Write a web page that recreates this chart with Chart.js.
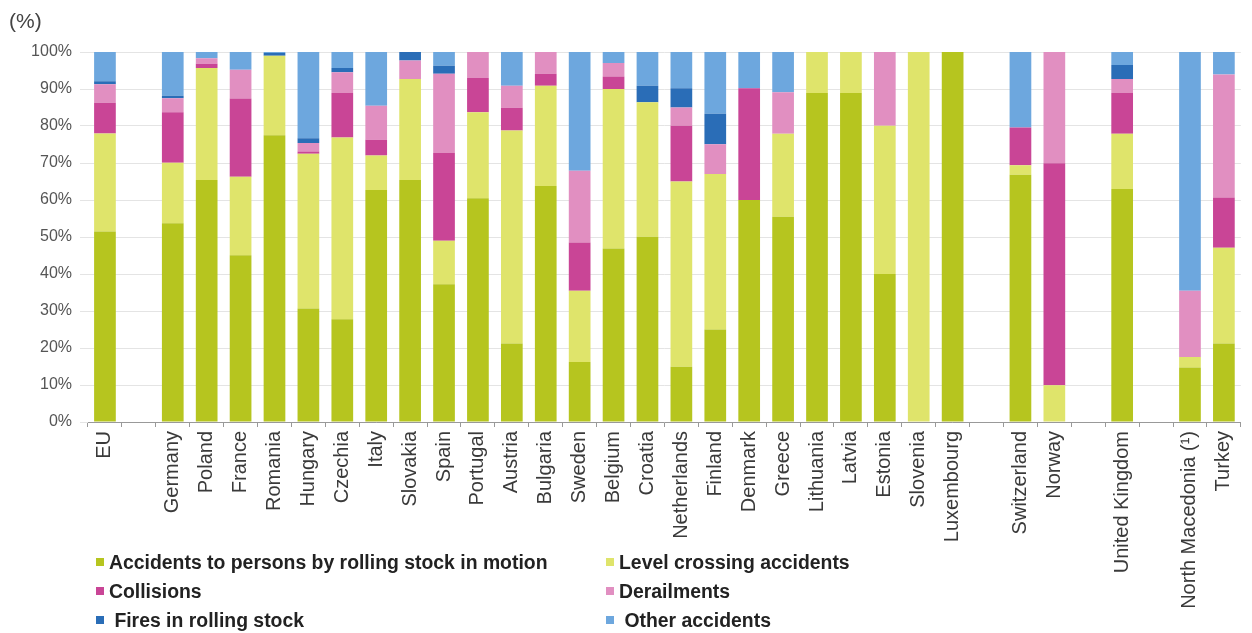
<!DOCTYPE html>
<html>
<head>
    <title>Railway accidents by type</title>
    <script src="https://cdn.jsdelivr.net/npm/chart.js"></script>
    <style>
        body { margin: 0; background: #fff; font-family: "Liberation Sans", Arial, sans-serif; }
        .wrap { position: relative; width: 1252px; height: 633px; }
        #unit { position: absolute; left: 9px; top: 9px; font-size: 21px; color: #444; }
        .leg { position: absolute; font-size: 19.4px; font-weight: bold; color: #222; white-space: nowrap; }
        .leg i { display: inline-block; width: 8px; height: 8px; margin-right: 5px; vertical-align: 3px; }
    </style>
</head>
<body>

<div class="wrap">
    <canvas id="grafico" width="1252" height="633"></canvas>
    <div id="unit">(%)</div>
    <div id="leyenda"></div>
</div>

<script>
    // '' entries are the empty gaps between country groups
    const countries = ['EU', '', 'Germany', 'Poland', 'France', 'Romania', 'Hungary', 'Czechia', 'Italy', 'Slovakia',
        'Spain', 'Portugal', 'Austria', 'Bulgaria', 'Sweden', 'Belgium', 'Croatia', 'Netherlands', 'Finland',
        'Denmark', 'Greece', 'Lithuania', 'Latvia', 'Estonia', 'Slovenia', 'Luxembourg', '', 'Switzerland',
        'Norway', '', 'United Kingdom', '', 'North Macedonia (¹)', 'Turkey'];

    const personsHit  = [51.5, null, 53.7, 65.4, 45.1, 77.5, 30.7, 27.8, 62.7, 65.4, 37.2, 60.5, 21.2, 63.8, 16.2, 46.9, 50.1, 14.9, 25.0, 60.0, 55.5, 88.9, 88.9, 40.0, 0, 100, null, 66.8, 0, null, 63.0, null, 14.7, 21.2];
    const levelCross  = [26.5, null, 16.4, 30.3, 21.2, 21.5, 41.8, 49.1, 9.3, 27.3, 11.8, 23.2, 57.6, 27.1, 19.3, 43.1, 36.3, 50.1, 42.0, 0, 22.4, 11.1, 11.1, 40.1, 100, 0, null, 2.6, 9.9, null, 14.9, null, 2.9, 25.9];
    const collisions  = [8.3, null, 13.6, 1.1, 21.1, 0, 0.6, 12.0, 4.3, 0, 23.7, 9.3, 6.1, 3.2, 13.0, 3.4, 0, 15.1, 0, 30.2, 0, 0, 0, 0, 0, 0, null, 10.2, 60.0, null, 11.0, null, 0, 13.6];
    const derailments = [5.0, null, 3.8, 1.5, 7.8, 0, 2.3, 5.6, 9.2, 5.0, 21.4, 7.0, 6.0, 5.9, 19.4, 3.6, 0, 4.9, 8.1, 0, 11.2, 0, 0, 19.9, 0, 0, null, 0, 30.1, null, 3.8, null, 17.9, 33.2];
    const fires       = [0.8, null, 0.7, 0, 0, 0.7, 1.3, 1.2, 0, 2.3, 2.2, 0, 0, 0, 0, 0, 4.5, 5.2, 8.2, 0, 0, 0, 0, 0, 0, 0, null, 0, 0, null, 3.8, null, 0, 0];
    const other       = [7.9, null, 11.8, 1.7, 4.8, 0.3, 23.3, 4.3, 14.5, 0, 3.7, 0, 9.1, 0, 32.1, 3.0, 9.1, 9.8, 16.7, 9.8, 10.9, 0, 0, 0, 0, 0, null, 20.4, 0, null, 3.5, null, 64.5, 6.1];

    const yTicks = [0, 10, 20, 30, 40, 50, 60, 70, 80, 90, 100];

    const series = [
        { label: 'Accidents to persons by rolling stock in motion', data: personsHit, color: '#b6c51f' },
        { label: 'Level crossing accidents', data: levelCross, color: '#dfe46b' },
        { label: 'Collisions', data: collisions, color: '#c94596' },
        { label: 'Derailments', data: derailments, color: '#e18fc1' },
        { label: ' Fires in rolling stock', data: fires, color: '#2a6db7' },
        { label: ' Other accidents', data: other, color: '#6da7de' }
    ];

    // legend in two columns, drawn as html
    const legPos = [[96, 551], [606, 551], [96, 580], [606, 580], [96, 609], [606, 609]];
    let legHTML = '';
    series.forEach((s, i) => {
        legHTML += `<div class="leg" style="left:${legPos[i][0]}px;top:${legPos[i][1]}px"><i style="background:${s.color}"></i>${s.label}</div>`;
    });
    document.getElementById('leyenda').innerHTML = legHTML;

    new Chart(document.getElementById('grafico').getContext('2d'), {
        type: 'bar',
        data: {
            labels: countries,
            datasets: series.map(s => ({
                label: s.label,
                data: s.data,
                backgroundColor: s.color,
                borderWidth: 0,
                barPercentage: 0.64,
                categoryPercentage: 1
            }))
        },
        options: {
            responsive: false,
            animation: false,
            layout: { padding: { top: 52, right: 8, left: 0, bottom: 0 } },
            plugins: {
                legend: { display: false },
                tooltip: { enabled: false }
            },
            scales: {
                x: {
                    stacked: true,
                    afterFit: (scale) => { scale.height = 211; },
                    grid: { drawOnChartArea: false, drawTicks: true, tickLength: 5, color: '#999' },
                    border: { color: '#999' },
                    ticks: {
                        autoSkip: false,
                        maxRotation: 90,
                        minRotation: 90,
                        padding: 4,
                        color: '#3a3a3a',
                        font: { family: 'Liberation Sans', size: 20 }
                    }
                },
                y: {
                    stacked: true,
                    min: 0,
                    max: 100,
                    afterFit: (scale) => { scale.width = 88; },
                    afterBuildTicks: (scale) => { scale.ticks = yTicks.map(v => ({ value: v })); },
                    grid: { color: '#e4e4e4', tickLength: 8 },
                    border: { display: false },
                    ticks: {
                        padding: 8,
                        color: '#555',
                        font: { family: 'Liberation Sans', size: 16 },
                        callback: v => v + '%'
                    }
                }
            }
        }
    });
</script>

</body>
</html>
